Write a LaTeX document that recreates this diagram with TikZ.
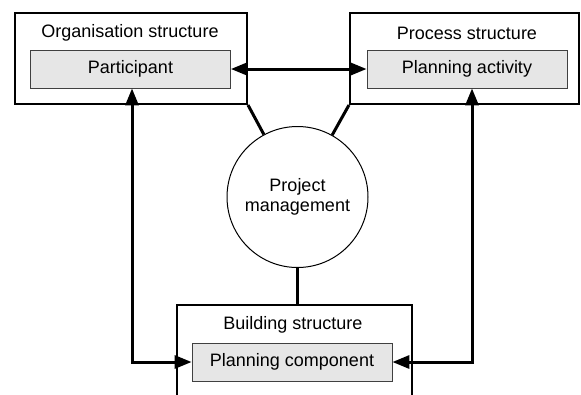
\documentclass[tikz,border=0pt]{standalone}
\usepackage{fontspec}
\setmainfont{Liberation Sans}
\usetikzlibrary{arrows.meta}
\definecolor{innerfill}{HTML}{E6E6E6}
\definecolor{innerdraw}{HTML}{404040}
\tikzset{
  outerbox/.style={draw=black, line width=2pt, fill=white, inner sep=0pt},
  innerbox/.style={draw=innerdraw, line width=0.8pt, fill=innerfill, minimum width=200pt, minimum height=38pt, inner sep=0pt, font=\fontsize{18}{21}\selectfont},
  title/.style={inner sep=0pt, font=\fontsize{18}{21}\selectfont},
  conn/.style={line width=3pt, {Triangle[length=17pt,width=13pt]}-{Triangle[length=17pt,width=13pt]}},
  link/.style={line width=3pt},
  pmcircle/.style={draw=black, line width=1pt, circle, fill=white, minimum size=141pt, inner sep=0pt, align=center, font=\fontsize{18}{21}\selectfont}
}
\begin{document}
\begin{tikzpicture}[x=1pt,y=-1pt]
\useasboundingbox (0,0) rectangle (581,394);
\clip (0,0) rectangle (581,394);
% outer boxes
\node[outerbox, minimum width=232pt, minimum height=91pt] (org) at (131,58.5) {};
\node[outerbox, minimum width=229pt, minimum height=91pt] (proc) at (464.5,58.5) {};
\node[outerbox, minimum width=235pt, minimum height=120pt] (bld) at (294.5,365) {};
% titles
\node[title] (orgt) at (130,33) {Organisation structure};
\node[title] (proct) at (467,33) {Process structure};
\node[title] (bldt) at (293,325) {Building structure};
% inner boxes
\node[innerbox] (part) at (130.5,69) {Participant};
\node[innerbox] (act) at (467,69) {Planning activity};
\node[innerbox] (comp) at (292,362) {Planning component};
% circle
\node[pmcircle] (pm) at (297.5,197) {Project\\[-1pt]management};
% links
\draw[link] (org.south east) -- (pm);
\draw[link] (proc.south west) -- (pm);
\draw[link] (pm.south) -- (pm.south |- bld.north);
% arrows
\draw[conn] (part.east) -- (act.west);
\draw[conn] ([xshift=1.5pt]part.south) |- (comp.west);
\draw[conn] ([xshift=5pt]act.south) |- (comp.east);
\end{tikzpicture}
\end{document}
